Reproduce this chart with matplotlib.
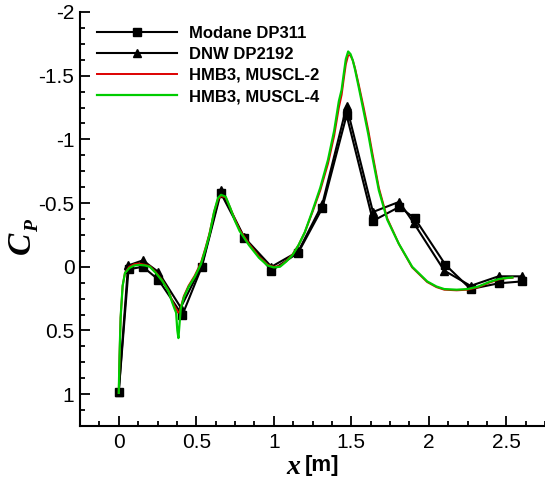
import matplotlib
matplotlib.use("Agg")
import matplotlib.pyplot as plt
from matplotlib.ticker import MultipleLocator

# ---- experimental data -------------------------------------------------
modane_x = [0.0, 0.063, 0.155, 0.255, 0.41, 0.536, 0.658, 0.81, 0.985, 1.158,
            1.313, 1.47, 1.64, 1.81, 1.91, 2.108, 2.27, 2.45, 2.6]
modane_cp = [0.98, 0.02, 0.0, 0.10, 0.38, 0.0, -0.58, -0.225, 0.03, -0.11,
             -0.46, -1.19, -0.36, -0.47, -0.38, -0.015, 0.175, 0.13, 0.115]

dnw_x = [0.0, 0.06, 0.155, 0.255, 0.40, 0.536, 0.658, 0.81, 0.985, 1.158,
         1.313, 1.47, 1.64, 1.81, 1.905, 2.10, 2.27, 2.45, 2.6]
dnw_cp = [0.98, -0.01, -0.05, 0.04, 0.32, -0.01, -0.60, -0.23, 0.0, -0.12,
          -0.49, -1.26, -0.43, -0.51, -0.34, 0.03, 0.15, 0.075, 0.075]

# ---- CFD results ---------------------------------------------------------
cfd_x = [0.0, 0.005, 0.012, 0.025, 0.04, 0.068, 0.10, 0.13, 0.17, 0.20,
         0.24, 0.28, 0.32, 0.345, 0.36, 0.37, 0.378, 0.385, 0.392, 0.40,
         0.42, 0.45, 0.49, 0.53, 0.56, 0.585, 0.615, 0.64, 0.66, 0.69,
         0.72, 0.75, 0.78, 0.84, 0.905, 0.96, 1.0, 1.04, 1.08, 1.12,
         1.16, 1.2, 1.25, 1.3, 1.35, 1.39, 1.42, 1.438, 1.45, 1.465,
         1.48, 1.495, 1.51, 1.524, 1.55, 1.58, 1.61, 1.635, 1.678, 1.732,
         1.807, 1.893, 1.99, 2.05, 2.1, 2.18, 2.25, 2.32, 2.39, 2.45,
         2.5, 2.54]

muscl4_cp = [0.99, 0.70, 0.40, 0.15, 0.05, 0.01, -0.01, -0.015, -0.01, 0.0,
             0.05, 0.11, 0.19, 0.28, 0.33, 0.36, 0.50, 0.56, 0.45, 0.33,
             0.24, 0.16, 0.08, -0.02, -0.14, -0.25, -0.43, -0.54, -0.565, -0.55,
             -0.46, -0.36, -0.28, -0.17, -0.07, -0.01, 0.005, 0.0, -0.04, -0.09,
             -0.17, -0.27, -0.44, -0.62, -0.84, -1.07, -1.30, -1.39, -1.50, -1.63,
             -1.69, -1.67, -1.62, -1.55, -1.40, -1.22, -1.04, -0.87, -0.60, -0.37,
             -0.18, 0.0, 0.115, 0.155, 0.175, 0.18, 0.175, 0.155, 0.12, 0.097,
             0.088, 0.084]

muscl2_cp = [0.99, 0.70, 0.40, 0.15, 0.05, 0.0, -0.02, -0.025, -0.015, -0.005,
             0.045, 0.105, 0.185, 0.27, 0.31, 0.33, 0.35, 0.36, 0.35, 0.32,
             0.23, 0.15, 0.07, -0.03, -0.15, -0.26, -0.43, -0.53, -0.555, -0.545,
             -0.46, -0.37, -0.29, -0.18, -0.08, -0.015, 0.0, -0.005, -0.045, -0.095,
             -0.17, -0.27, -0.43, -0.60, -0.81, -1.03, -1.25, -1.35, -1.46, -1.59,
             -1.66, -1.66, -1.62, -1.56, -1.42, -1.25, -1.07, -0.90, -0.62, -0.38,
             -0.18, 0.005, 0.12, 0.16, 0.18, 0.185, 0.18, 0.16, 0.125, 0.10,
             0.09, 0.086]

labels = ["Modane DP311", "DNW DP2192", "HMB3, MUSCL-2", "HMB3, MUSCL-4"]

W, H = 545, 484
fig = plt.figure(figsize=(W / 100, H / 100), dpi=100)
ax = fig.add_axes([80 / W, (H - 426) / H, (W - 80) / W, (426 - 12) / H])

ax.plot(modane_x, modane_cp, color="black", lw=1.5, marker="s", ms=6,
        label=labels[0])
ax.plot(dnw_x, dnw_cp, color="black", lw=1.5, marker="^", ms=6,
        label=labels[1])
ax.plot(cfd_x, muscl2_cp, color="#dd0000", lw=1.4, label=labels[2])
ax.plot(cfd_x, muscl4_cp, color="#00cc00", lw=1.6, label=labels[3])

ax.set_xlim(-0.25, 2.75)
ax.set_ylim(1.25, -2.0)

ax.spines["top"].set_visible(False)
ax.spines["right"].set_visible(False)
for s in ("left", "bottom"):
    ax.spines[s].set_linewidth(1.5)

ax.xaxis.set_major_locator(MultipleLocator(0.5))
ax.xaxis.set_minor_locator(MultipleLocator(0.125))
ax.yaxis.set_major_locator(MultipleLocator(0.5))
ax.yaxis.set_minor_locator(MultipleLocator(0.125))
ax.set_xticks([0, 0.5, 1, 1.5, 2, 2.5])
ax.set_xticklabels(["0", "0.5", "1", "1.5", "2", "2.5"])
ax.set_yticks([-2, -1.5, -1, -0.5, 0, 0.5, 1])
ax.set_yticklabels(["-2", "-1.5", "-1", "-0.5", "0", "0.5", "1"])

ax.tick_params(which="both", direction="in", top=False, right=False, width=1.3)
ax.tick_params(which="major", length=7)
ax.tick_params(which="minor", length=3.5)
ax.tick_params(axis="x", pad=5)
ax.tick_params(axis="y", pad=4)
for lab in ax.get_xticklabels() + ax.get_yticklabels():
    lab.set_fontfamily("Liberation Sans")
    lab.set_fontsize(15)

leg = ax.legend(loc="upper left", bbox_to_anchor=(97 / W, 1 - 26 / H),
                bbox_transform=fig.transFigure, frameon=False,
                handlelength=4.8, handletextpad=0.7, labelspacing=0.36,
                borderpad=0, borderaxespad=0, numpoints=1,
                prop={"family": "Liberation Sans", "weight": "bold", "size": 12})

# axis titles
serif_bi = dict(family="Liberation Serif", weight="bold", style="italic")
fig.text(21 / W, 1 - 243 / H, "C", rotation=90, ha="center", va="center",
         fontsize=24, **serif_bi)
fig.text(34 / W, 1 - 226 / H, "P", rotation=90, ha="center", va="center",
         fontsize=14, **serif_bi)
fig.text(293 / W, 1 - 467 / H, "x", ha="center", va="center",
         fontsize=20, **serif_bi)
fig.text(322 / W, 1 - 465 / H, "[m]", ha="center", va="center",
         fontsize=16, family="Liberation Sans", weight="bold")

fig.savefig("out.png", dpi=100)
